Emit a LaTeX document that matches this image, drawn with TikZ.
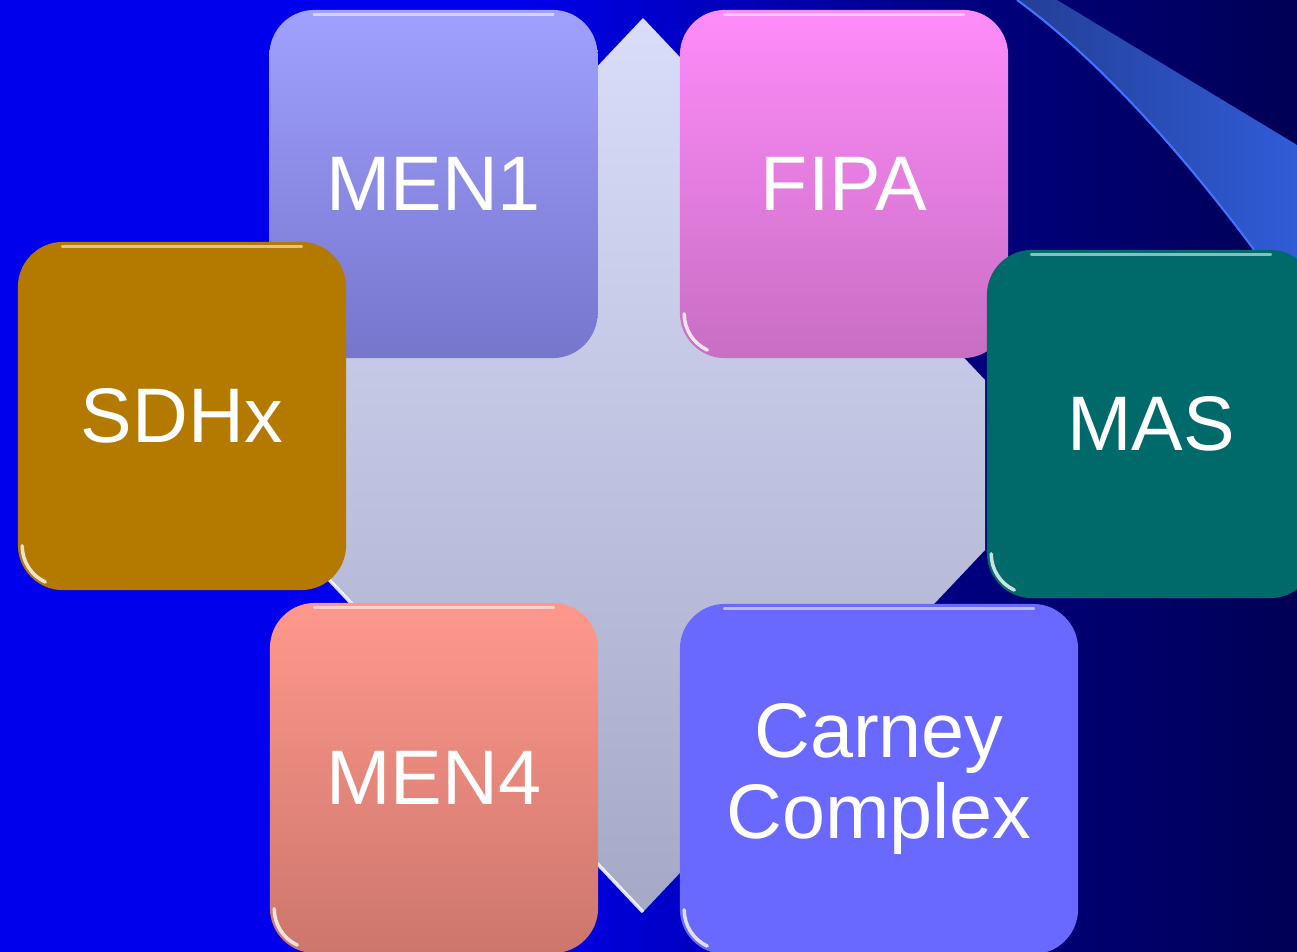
\documentclass[tikz,border=0pt]{standalone}
\usepackage{fontspec}
\setmainfont{Liberation Sans}
\usetikzlibrary{positioning}

\definecolor{lilac}{RGB}{160,160,255}
\definecolor{lilacdk}{RGB}{118,118,205}
\definecolor{orchid}{RGB}{255,140,250}
\definecolor{orchiddk}{RGB}{200,110,195}
\definecolor{ochre}{RGB}{180,122,0}
\definecolor{teal}{RGB}{0,106,106}
\definecolor{salmon}{RGB}{255,152,140}
\definecolor{salmondk}{RGB}{205,118,108}
\definecolor{periwinkle}{RGB}{105,105,255}
\definecolor{mist}{RGB}{218,221,250}
\definecolor{mistdk}{RGB}{165,168,198}
\definecolor{beamlt}{RGB}{48,92,215}
\definecolor{beamdk}{RGB}{35,62,150}
\definecolor{beamedge}{RGB}{65,115,255}

% backdrop: bright blue on the left, navy on the right
\pgfdeclarehorizontalshading{backdrop}{100bp}{rgb(0bp)=(0,0,.93); rgb(25bp)=(0,0,.93); rgb(45bp)=(0,0,.92); rgb(52bp)=(0,0,.76); rgb(62bp)=(0,0,.5); rgb(75bp)=(0,0,.33); rgb(100bp)=(0,0,.33)}

% glossy edge on a tile
\newcommand\shine[1]{%
  \draw[white, opacity=.55, line width=.8pt, line cap=round] ([shift={(45,5)}]#1.north west) -- ([shift={(-45,5)}]#1.north east);
  \draw[white, opacity=.8, line width=1pt, line cap=round] ([shift={(5,-45)}]#1.south west) arc[start angle=180, end angle=115, radius=40];
}

\begin{document}
\begin{tikzpicture}[x=0.01cm, y=-0.01cm,
    tile/.style={rounded corners=0.45cm, minimum width=3.28cm, minimum height=3.48cm,
      inner sep=0pt, align=center, text=white, font=\fontsize{22}{23}\selectfont}]
  \useasboundingbox (0,0) rectangle (1297,951);
  \clip (0,0) rectangle (1297,951);

  % backdrop
  \shade[shading=backdrop] (0,0) rectangle (1297,951);

  % light beam in the corner
  \shade[left color=beamdk, right color=beamlt] (1017,0) -- (1057,0) -- (1297,145) -- (1297,320)
    -- (1290,300) .. controls (1200,170) and (1100,60) .. (1017,0) -- cycle;
  \draw[beamedge, line width=.6pt] (1290,300) .. controls (1200,170) and (1100,60) .. (1017,0);

  % central hexagon behind the tiles
  \shade[top color=mist, bottom color=mistdk] (643,18) -- (985,380) -- (985,550) -- (643,912)
    -- (301,550) -- (301,380) -- cycle;
  \draw[white, opacity=.85, line width=1pt] (301,550) -- (643,912);

  % the six tiles, each with its gloss
  \node[tile, top color=lilac, bottom color=lilacdk] (men1) at (433.5,184) {MEN1};
  \shine{men1}
  \node[tile, top color=orchid, bottom color=orchiddk] (fipa) at (844,184) {FIPA};
  \shine{fipa}
  \node[tile, minimum height=3.5cm, top color=salmon, bottom color=salmondk] (men4) at (434,778) {MEN4};
  \shine{men4}
  \node[tile, minimum width=3.98cm, minimum height=3.5cm, fill=periwinkle] (carney) at (879,779) {Carney\\Complex};
  \shine{carney}
  \node[tile, fill=ochre] (sdhx) at (182,416) {SDHx};
  \shine{sdhx}
  \node[tile, fill=teal] (mas) at (1151,424) {MAS};
  \shine{mas}
\end{tikzpicture}
\end{document}
